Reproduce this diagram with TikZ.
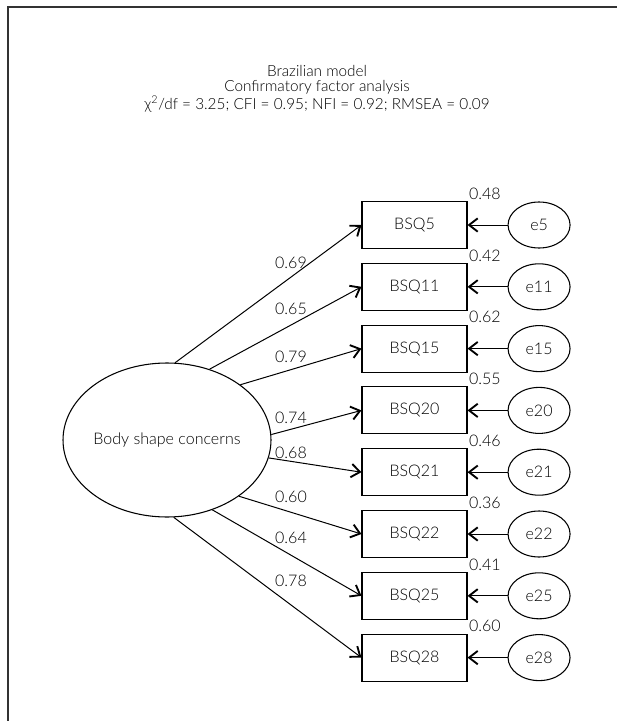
\documentclass[tikz,border=0pt]{standalone}
\usepackage{fontspec}
\setmainfont{Lato}[UprightFont=* Light]
\usepackage{tikz}
\usetikzlibrary{
  arrows.meta,
  positioning,
  shapes.geometric
}

\tikzset{
  item/.style={draw, line width=0.8pt, minimum width=78.75pt, minimum height=35.25pt, inner sep=0pt},
  errterm/.style={draw, ellipse, line width=0.8pt, minimum width=46.5pt, minimum height=34.5pt, inner sep=0pt},
  factor/.style={draw, ellipse, line width=0.8pt, minimum width=151.5pt, minimum height=115.5pt, inner sep=0pt},
  path/.style={line width=0.75pt, -{Straight Barb[length=6.5pt, width=10pt, line width=1.4pt]}},
  coef/.style={inner sep=1pt}
}

\begin{document}
\begin{tikzpicture}[x=0.75pt, y=-0.75pt, font=\fontsize{12}{13}\selectfont]
\useasboundingbox (0,0) rectangle (617,721);
\draw[line width=1.2pt, black!80] (8,721) -- (8,7) -- (617,7);

\node[align=center, font=\fontsize{11.5}{11.25}\selectfont] (title) at (317,89)
  {Brazilian model\\
   Confirmatory factor analysis\\
   χ\textsuperscript{2}/df = 3.25; CFI = 0.95; NFI = 0.92; RMSEA = 0.09};

\node[factor] (bsc) at (167,440) {Body shape concerns};

% items, error terms and loadings
\foreach \k/\i/\r/\v/\a/\ly in {0/5/0.48/0.69/84/263, 1/11/0.42/0.65/59/309,
    2/15/0.62/0.79/37/357, 3/20/0.55/0.74/3/418, 4/21/0.46/0.68/-10/453,
    5/22/0.36/0.60/-38/497, 6/25/0.41/0.64/-57/538, 7/28/0.60/0.78/-85/581} {
  \node[item] (bsq\i) at (414.5,{225+61.8*\k}) {BSQ\i};
  \node[errterm, right=30pt of bsq\i] (e\i) {e\i};
  \node[coef, anchor=south west] (r\i) at (bsq\i.north east) {\r};
  \draw[path] (e\i) -- (bsq\i);
  \draw[path] (bsc.\a) -- (bsq\i.west);
  \node[coef] (l\i) at (291,\ly) {\v};
}
\end{tikzpicture}
\end{document}
